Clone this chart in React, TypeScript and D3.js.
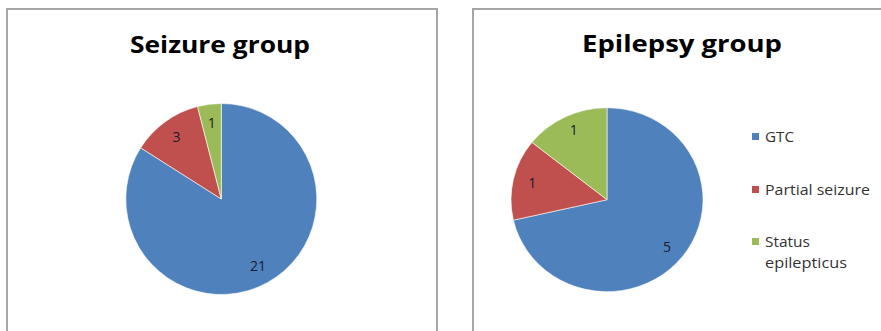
import React from "react";
import * as d3 from "d3";

const categories = ["GTC", "Partial seizure", "Status epilepticus"];
const seizureValues = [21, 3, 1];
const epilepsyValues = [5, 1, 1];
const titles = ["Seizure group", "Epilepsy group"];
const colors = ["#4F81BD", "#C0504D", "#9BBB59"];

const FONT = "'Open Sans', 'Liberation Sans', sans-serif";

function Pie({ values, cx, cy, r, sy }: { values: number[]; cx: number; cy: number; r: number; sy: number }) {
  const pie = d3.pie<number>().sort(null).value((d) => d);
  const arcs = pie(values);
  const arc = d3.arc<d3.PieArcDatum<number>>().innerRadius(0).outerRadius(r);
  const labelArc = d3.arc<d3.PieArcDatum<number>>().innerRadius(r * 0.8).outerRadius(r * 0.8);
  return (
    <g transform={`translate(${cx},${cy}) scale(1,${sy})`}>
      {arcs.map((a, i) => (
        <path key={i} d={arc(a) || ""} fill={colors[i]} stroke="#ffffff" strokeWidth={0.6} />
      ))}
      {arcs.map((a, i) => {
        const [x, y] = labelArc.centroid(a);
        return (
          <text key={"l" + i} x={x} y={y} transform={`scale(1,${1 / sy})`} dy="0.35em" textAnchor="middle"
            fontFamily={FONT} fontSize={14} fill="#1a1a2e">
            {values[i]}
          </text>
        );
      })}
    </g>
  );
}

const legendLines = [["GTC"], ["Partial seizure"], ["Status", "epilepticus"]];
const legendWidths = [[29], [105], [45, 82]];

export default function App() {
  return (
    <svg width={881} height={331} style={{ position: "absolute", left: 0, top: 0 }}>
      <rect x={0} y={0} width={881} height={331} fill="#ffffff" />
      <rect x={7} y={9} width={430} height={340} fill="none" stroke="#a6a6a6" strokeWidth={2} />
      <rect x={473} y={9} width={430} height={340} fill="none" stroke="#a6a6a6" strokeWidth={2} />

      <text x={220} y={53} textAnchor="middle" fontFamily={FONT} fontWeight="bold" fontSize={24}
        textLength={180} lengthAdjust="spacingAndGlyphs" fill="#000">{titles[0]}</text>
      <text x={682} y={52} textAnchor="middle" fontFamily={FONT} fontWeight="bold" fontSize={24}
        textLength={200} lengthAdjust="spacingAndGlyphs" fill="#000">{titles[1]}</text>

      <Pie values={seizureValues} cx={221.3} cy={199} r={95.5} sy={1} />
      <Pie values={epilepsyValues} cx={607} cy={199.7} r={96} sy={0.958} />

      {categories.map((c, i) => {
        const y = [137, 190, 242][i];
        return (
          <g key={c}>
            <rect x={752} y={y - 4} width={7} height={7} fill={colors[i]} />
            {legendLines[i].map((ln, j) => (
              <text key={j} x={765} y={y + j * 21} dy="0.35em" fontFamily={FONT} fontSize={14} fill="#333"
                textLength={legendWidths[i][j]} lengthAdjust="spacingAndGlyphs">
                {ln}
              </text>
            ))}
          </g>
        );
      })}
    </svg>
  );
}
